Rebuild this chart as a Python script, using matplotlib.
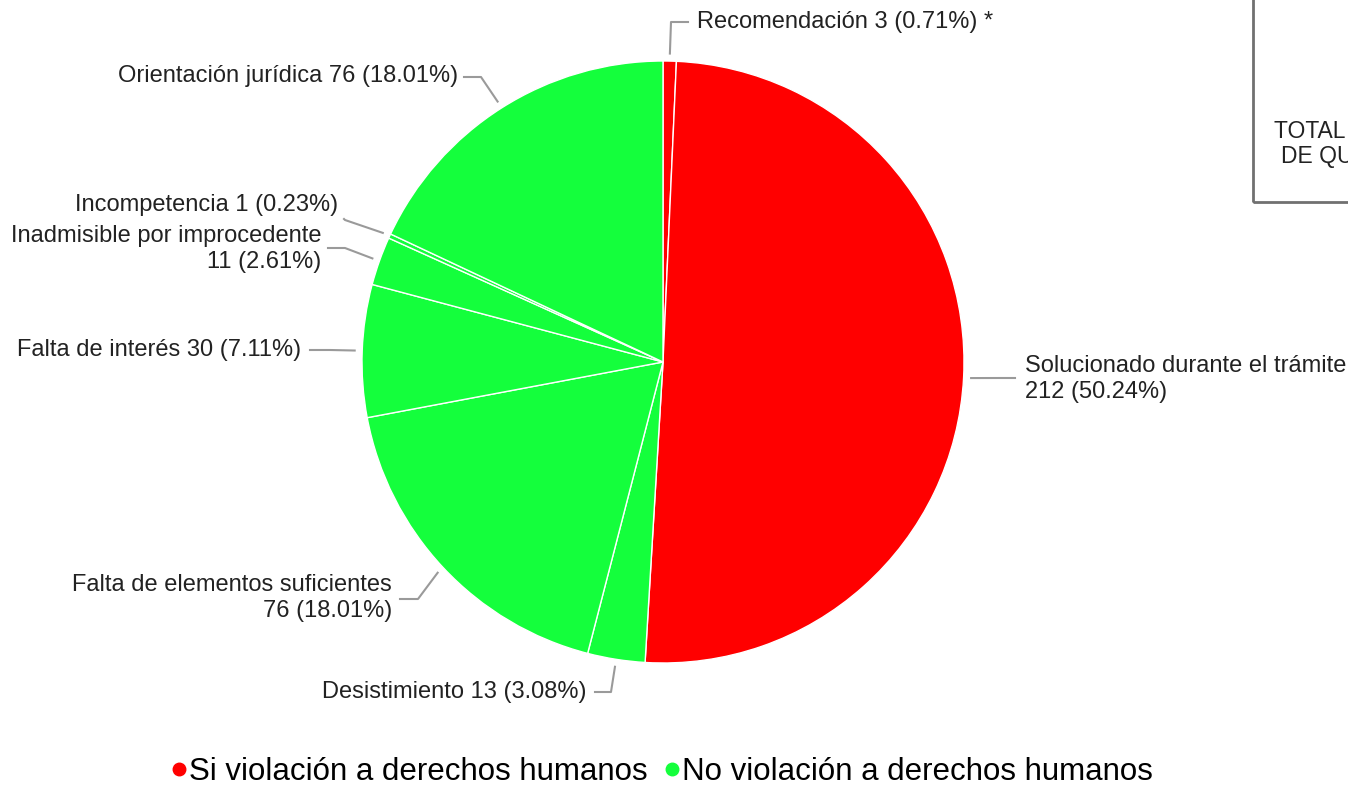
import numpy as np
import matplotlib
matplotlib.use('Agg')
import matplotlib.pyplot as plt
from matplotlib.lines import Line2D
from matplotlib.patches import Rectangle

plt.rcParams['font.family'] = ['Liberation Sans', 'DejaVu Sans']

# datos del gráfico (orden horario desde arriba)
categorias = ['Recomendación', 'Solucionado durante el trámite', 'Desistimiento',
              'Falta de elementos suficientes', 'Falta de interés',
              'Inadmisible por improcedente', 'Incompetencia', 'Orientación jurídica']
cantidades = [3, 212, 13, 76, 30, 11, 1, 76]
porcentajes = ['0.71%', '50.24%', '3.08%', '18.01%', '7.11%', '2.61%', '0.23%', '18.01%']
violacion = [True, True, False, False, False, False, False, False]
etiquetas = [
    'Recomendación 3 (0.71%) *',
    'Solucionado durante el trámite\n212 (50.24%)',
    'Desistimiento 13 (3.08%)',
    'Falta de elementos suficientes\n76 (18.01%)',
    'Falta de interés 30 (7.11%)',
    'Inadmisible por improcedente\n11 (2.61%)',
    'Incompetencia 1 (0.23%)',
    'Orientación jurídica 76 (18.01%)',
]
leyenda = ['Si violación a derechos humanos', 'No violación a derechos humanos']

ROJO = '#ff0000'
VERDE = '#14ff3c'
GRIS = '#9a9a9a'
TEXTO = '#222222'
FS = 17

# posición del pastel en píxeles
W, H = 1348, 788
CX, CY, R = 663, 362, 301

def px(x, y):
    # píxeles de la imagen -> coordenadas de datos del eje
    return (x - CX) / R, (CY - y) / R

# disposición de etiquetas: codo de la línea, fin de la línea, texto, alineación
layout = [
    ((671, 22), (688, 22), (697, 22), 'left'),
    ((1000, 378), (1015, 378), (1025, 379), 'left'),
    ((611, 692), (595, 692), (587, 692), 'right'),
    ((418, 599), (400, 599), (392, 598), 'right'),
    ((330, 350), (310, 350), (301, 350), 'right'),
    ((345, 248), (328, 248), (321, 249), 'right'),
    ((345, 220), (344, 219), (338, 205), 'right'),
    ((481, 77), (464, 77), (458, 76), 'right'),
]

fig = plt.figure(figsize=(W / 100, H / 100), dpi=100)
ax = fig.add_axes([(CX - R) / W, (H - CY - R) / H, 2 * R / W, 2 * R / H])
colores = [ROJO if v else VERDE for v in violacion]
wedges, _ = ax.pie(cantidades, colors=colores, startangle=90, counterclock=False,
                   radius=1, wedgeprops=dict(edgecolor='white', linewidth=1))
ax.set_xlim(-1, 1)
ax.set_ylim(-1, 1)
ax.axis('off')

for w, txt, (codo, fin, pos, ha) in zip(wedges, etiquetas, layout):
    ang = np.deg2rad((w.theta1 + w.theta2) / 2)
    x0, y0 = 1.025 * np.cos(ang), 1.025 * np.sin(ang)
    x1, y1 = px(*codo)
    x2, y2 = px(*fin)
    ax.plot([x0, x1, x2], [y0, y1, y2], color=GRIS, lw=1.5, clip_on=False)
    tx, ty = px(*pos)
    ax.text(tx, ty, txt, ha=ha, va='center', multialignment=ha,
            fontsize=FS, color=TEXTO, linespacing=1.2, clip_on=False)

# recuadro recortado arriba a la derecha
fig.patches.append(Rectangle((1253 / W, 1 - 202 / H), 200 / W, 220 / H,
                             transform=fig.transFigure, fill=False,
                             edgecolor='#707070', lw=2))
fig.text(1274 / W, 1 - 132 / H, 'TOTAL EXPEDIENTES', ha='left', va='center',
         fontsize=16.5, color=TEXTO)
fig.text(1281 / W, 1 - 157 / H, 'DE QUEJA', ha='left', va='center',
         fontsize=16.5, color=TEXTO)

handles = [Line2D([], [], marker='o', ls='', color=ROJO, markersize=9),
           Line2D([], [], marker='o', ls='', color=VERDE, markersize=9)]
fig.legend(handles, leyenda, loc='center', bbox_to_anchor=(662 / W, 1 - 772 / H),
           ncol=2, frameon=False, fontsize=22.5, handlelength=0.5,
           handletextpad=0.1, columnspacing=0.5, borderpad=0.1)

fig.savefig('out.png', dpi=100)
